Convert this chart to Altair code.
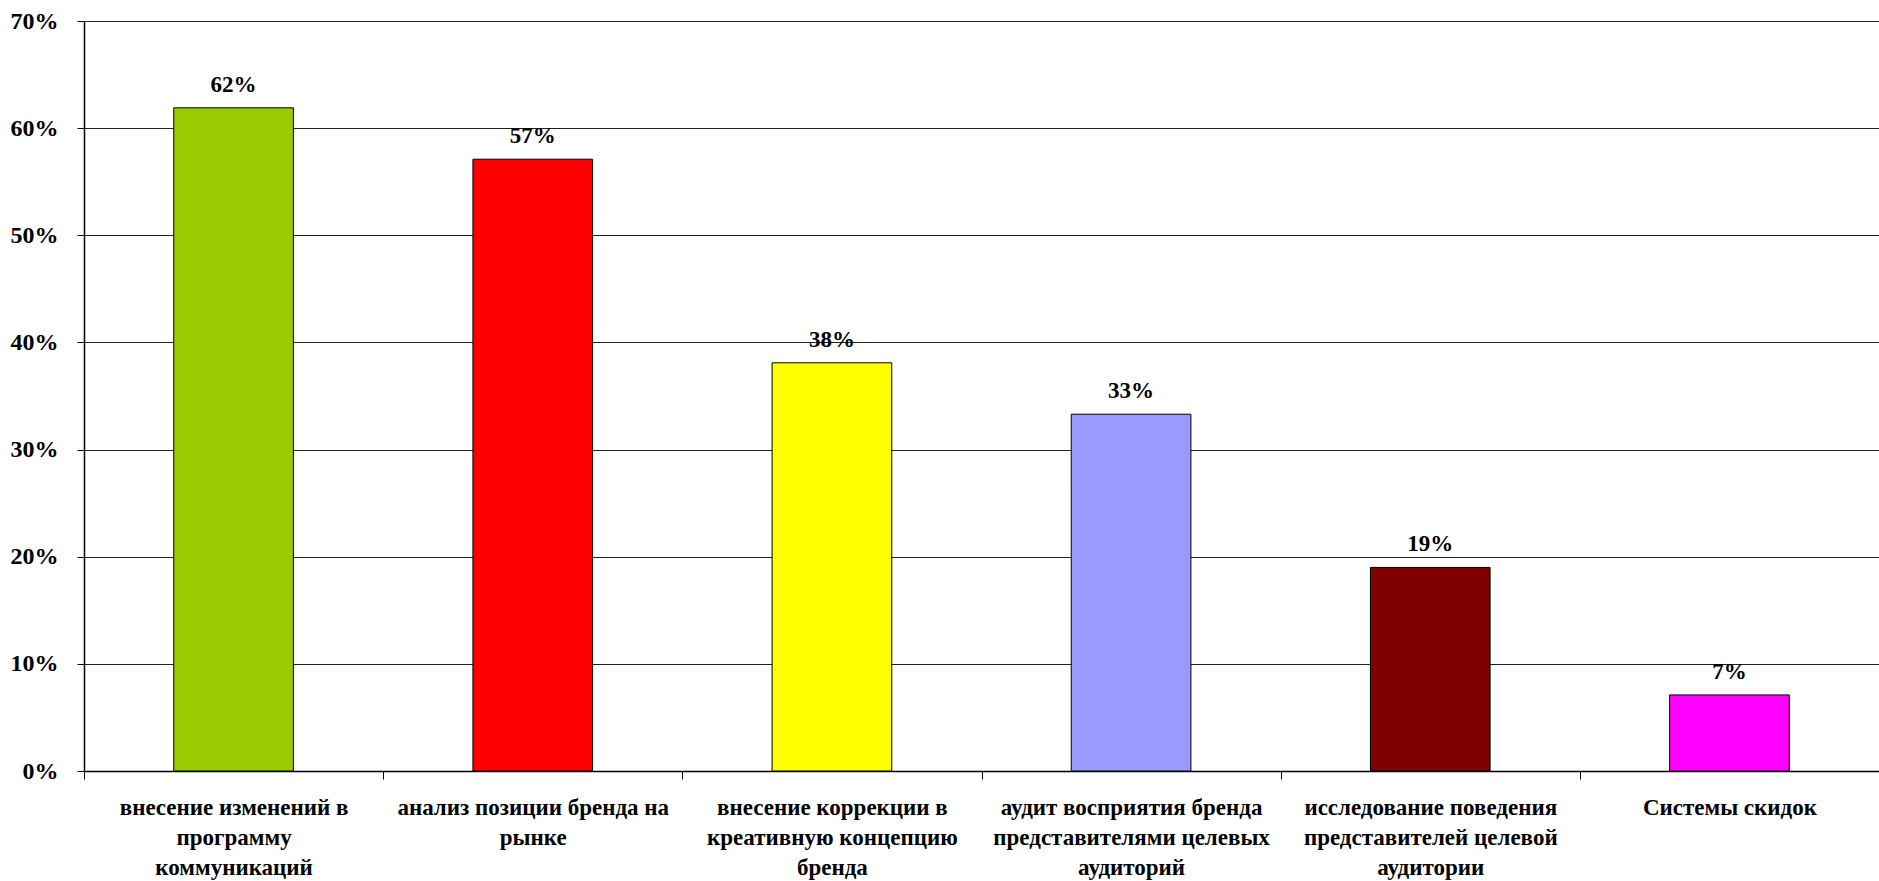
import altair as alt
import pandas as pd

categories = [
    "внесение изменений в\nпрограмму\nкоммуникаций",
    "анализ позиции бренда на\nрынке",
    "внесение коррекции в\nкреативную концепцию\nбренда",
    "аудит восприятия бренда\nпредставителями целевых\nаудиторий",
    "исследование поведения\nпредставителей целевой\nаудитории",
    "Системы скидок",
]
values = [61.9, 57.1, 38.1, 33.3, 19.0, 7.1]
colors = ["#99CC00", "#FF0000", "#FFFF00", "#9999FF", "#800000", "#FF00FF"]
y_ticks = [0, 10, 20, 30, 40, 50, 60, 70]

df = pd.DataFrame({"cat": categories, "value": values, "color": colors})

FONT = "Liberation Serif"

x = alt.X(
    "cat:N",
    sort=None,
    scale=alt.Scale(paddingInner=0, paddingOuter=0),
    axis=alt.Axis(
        title=None,
        labelAngle=0,
        labelExpr="split(datum.label, '\\n')",
        labelFont=FONT,
        labelFontWeight="bold",
        labelFontSize=23,
        labelColor="black",
        labelLineHeight=30,
        labelPadding=17,
        labelLimit=400,
        labelBaseline="top",
        tickBand="extent",
        tickSize=8,
        tickColor="black",
        domainColor="black",
        domainWidth=1.5,
        grid=False,
    ),
)

y = alt.Y(
    "value:Q",
    scale=alt.Scale(domain=[0, 70], nice=False),
    axis=alt.Axis(
        title=None,
        values=y_ticks,
        labelExpr="datum.value + '%'",
        labelFont=FONT,
        labelFontWeight="bold",
        labelFontSize=24,
        labelColor="black",
        labelPadding=19,
        tickSize=7,
        tickColor="black",
        domainColor="black",
        domainWidth=1.5,
        grid=True,
        gridColor="#222222",
        gridWidth=1,
    ),
)

bars = alt.Chart(df).mark_bar(
    width=alt.RelativeBandSize(0.4), stroke="black", strokeWidth=1
).encode(x=x, y=y, color=alt.Color("color:N", scale=None))

labels = alt.Chart(df).transform_calculate(
    lbl="round(datum.value) + '%'"
).mark_text(
    font=FONT, fontWeight="bold", fontSize=23, color="black",
    baseline="alphabetic", dy=-16,
).encode(x=x, y=y, text="lbl:N")

chart = (bars + labels).properties(
    width=1795,
    height=750,
    padding={"left": 84, "top": 21, "right": 0, "bottom": 110},
    autosize=alt.AutoSizeParams(type="none"),
    background="white",
).configure_view(stroke=None)

chart.save("out.html", embed_options={"renderer": "svg", "actions": False})
